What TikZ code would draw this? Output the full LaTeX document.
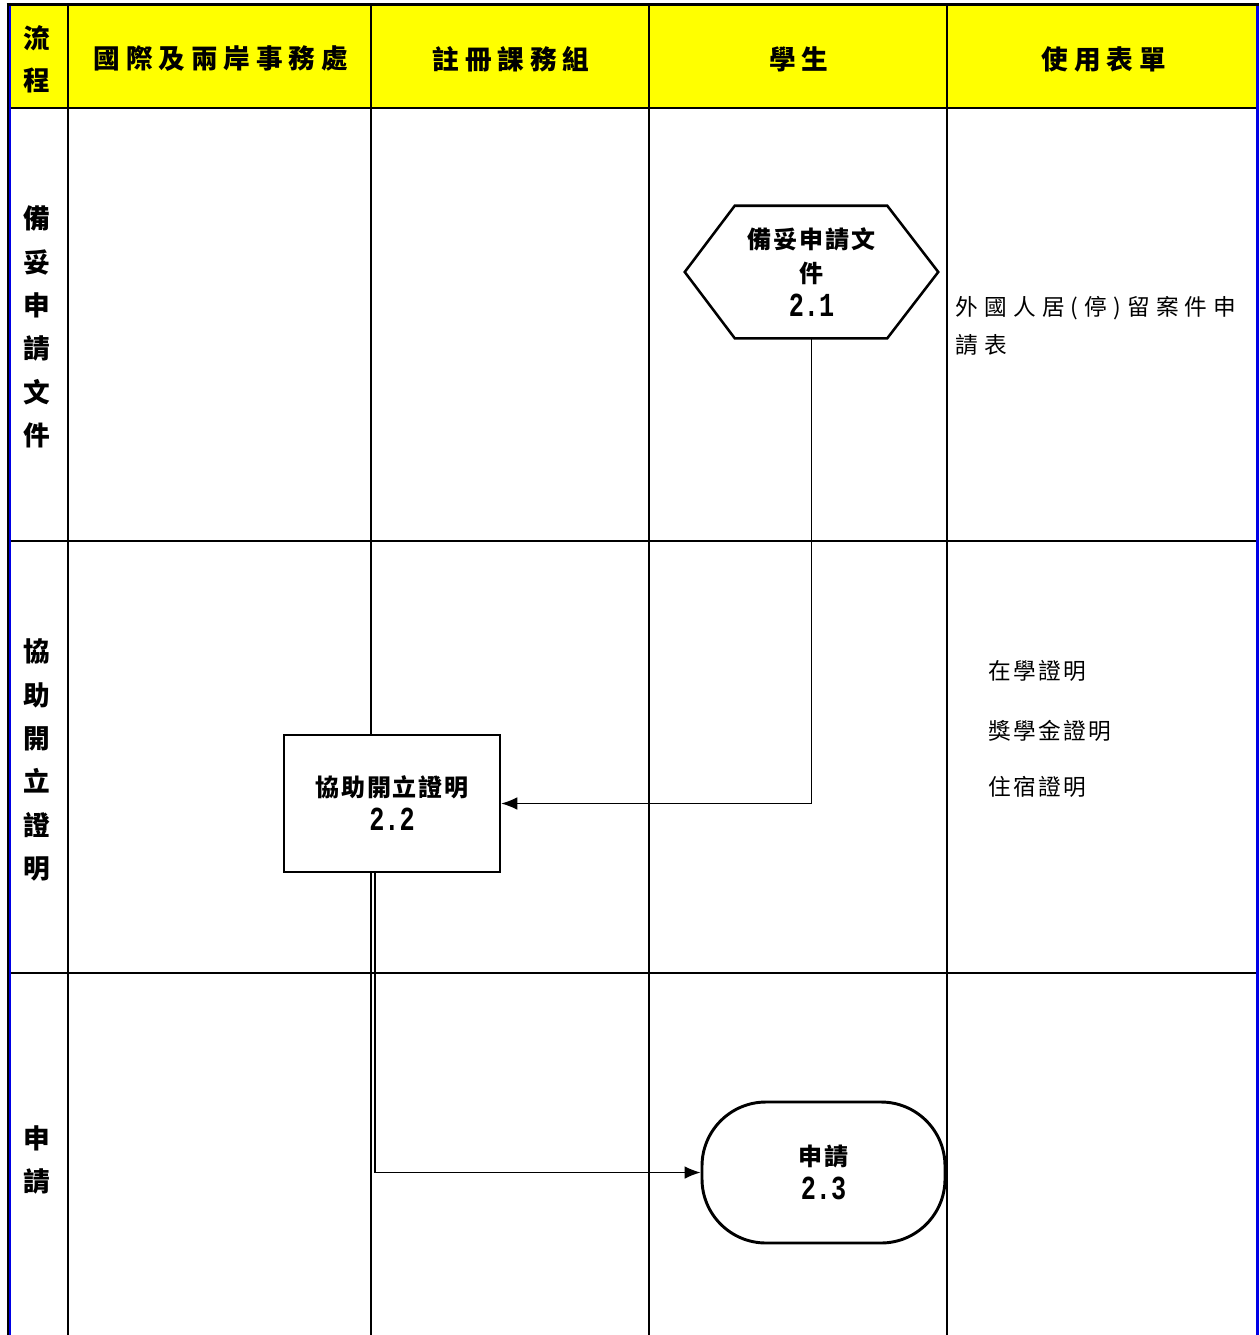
\documentclass[tikz,border=0pt]{standalone}
\usepackage{fontspec}
\usepackage{graphicx}
\usetikzlibrary{calc,arrows.meta}
\newfontfamily\cjk{Noto Sans CJK TC}
\newfontfamily\cjksp[LetterSpace=22]{Noto Sans CJK TC}
\newfontfamily\cjkbx[LetterSpace=8]{Noto Sans CJK TC}
\newfontfamily\cjkr[LetterSpace=10]{Noto Sans CJK TC}
\newfontfamily\cjkrw[LetterSpace=27]{Noto Sans CJK TC}
\newfontfamily\digitfont{Liberation Mono}
\newcommand{\dnum}[1]{\scalebox{1.05}[1.4]{\digitfont\bfseries #1}}
\definecolor{hdryellow}{RGB}{255,255,0}
\definecolor{bordblue}{RGB}{0,0,230}
\tikzset{
  gridline/.style={line width=1.5pt,black},
  rowline/.style={line width=1.2pt,black},
  hdrtext/.style={font=\cjksp\bfseries\fontsize{20}{24}\selectfont,anchor=center},
  sidetext/.style={font=\cjk\bfseries\fontsize{20}{32.5}\selectfont,align=center,anchor=center},
  boxtext/.style={font=\cjkbx\bfseries\fontsize{18}{25.5}\selectfont,align=center},
  formtext/.style={font=\cjkr\fontsize{17}{28}\selectfont,anchor=west,align=left},
  shapeline/.style={line width=1.9pt,black},
  flow/.style={line width=0.9pt,black,-{Latex[length=12pt,width=9.5pt]}}
}
\begin{document}
\begin{tikzpicture}[x=0.75pt,y=-0.75pt]
\useasboundingbox (0,0) rectangle (1260,1335);
% header background
\fill[hdryellow] (9,5) rectangle (1257,108);
% grid lines
\draw[gridline] (68,5) -- (68,1335);
\draw[gridline] (371,5) -- (371,1335);
\draw[gridline] (649,5) -- (649,1335);
\draw[gridline] (947,5) -- (947,1335);
\draw[line width=2pt] (9,108) -- (1257,108);
\draw[rowline] (9,541) -- (1257,541);
\draw[rowline] (9,973) -- (1257,973);
% borders
\draw[line width=2pt,black] (6.5,4.5) -- (1259,4.5);
\draw[line width=1.5pt,black] (7.5,4) -- (7.5,1335);
\draw[line width=1.8pt,bordblue] (9.8,5.5) -- (9.8,1335);
\draw[line width=2pt,bordblue] (1257.5,5.5) -- (1257.5,1335);
% header texts
\node[sidetext,font=\cjk\bfseries\fontsize{20}{31.5}\selectfont] (h0) at (37,59) {流\\程};
\node[hdrtext] (h1) at (221,59) {國際及兩岸事務處};
\node[hdrtext] (h2) at (511,59) {註冊課務組};
\node[hdrtext] (h3) at (799,59) {學生};
\node[hdrtext] (h4) at (1104,59) {使用表單};
% side labels
\node[sidetext] (s1) at (37,327) {備\\妥\\申\\請\\文\\件};
\node[sidetext] (s2) at (37,760) {協\\助\\開\\立\\證\\明};
\node[sidetext] (s3) at (37,1160) {申\\請};
% form texts
\node[formtext,font=\cjkrw\fontsize{17}{28}\selectfont] (f1) at (951,326) {外國人居(停)留案件申\\請表};
\node[formtext] (f2) at (984,671) {在學證明};
\node[formtext] (f3) at (984,731) {獎學金證明};
\node[formtext] (f4) at (984,787) {住宿證明};
% process nodes
\node[boxtext,minimum width=189.75pt,minimum height=99pt,inner sep=0pt] (hex) at (811.5,272) {備妥申請文\\件\\\dnum{2.1}};
\draw[shapeline,fill=white] (hex.west) -- ($(hex.north west)+(50,0)$) -- ($(hex.north east)+(-51,0)$) -- (hex.east) -- ($(hex.south east)+(-51,0)$) -- ($(hex.south west)+(50,0)$) -- cycle;
\node[boxtext,minimum width=189.75pt,minimum height=99pt,inner sep=0pt] at (hex) {備妥申請文\\件\\\dnum{2.1}};
\node[boxtext,shapeline,draw,fill=white,minimum width=162pt,minimum height=102.75pt,inner sep=0pt] (rect) at (392,803.5) {協助開立證明\\\dnum{2.2}};
\node[boxtext,shapeline,line width=2.2pt,draw,fill=white,rounded corners=48pt,minimum width=182.25pt,minimum height=105.75pt,inner sep=0pt] (term) at (823.5,1172.5) {申請\\\dnum{2.3}};
% connectors
\draw[flow] (hex.south) |- (rect.east);
\draw[flow] ($(rect.south)+(-17,0)$) |- (term.west);
\end{tikzpicture}
\end{document}
